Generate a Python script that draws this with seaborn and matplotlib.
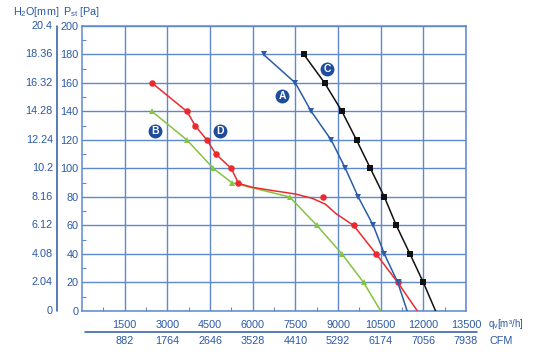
import numpy as np
import matplotlib
matplotlib.use("Agg")
import matplotlib.pyplot as plt
import seaborn as sns
from matplotlib.lines import Line2D

# Fan curves: airflow qv [m3/h] vs static pressure Pst [Pa]
a_flow = [6380, 7500, 8060, 8760, 9260, 9710, 10240, 10630, 11100, 11430]
a_pst = [180, 160, 140, 120, 100, 80, 60, 40, 20, 0]

b_flow = [2460, 3690, 4620, 5270, 7300, 8260, 9140, 9900, 10500]
b_pst = [140, 120, 100, 90, 80, 60, 40, 20, 0]

c_flow = [7800, 8530, 9140, 9650, 10140, 10630, 11050, 11530, 12000, 12430]
c_pst = [180, 160, 140, 120, 100, 80, 60, 40, 20, 0]

d_flow = [2460, 3690, 3980, 4390, 4710, 5250, 5470, 8480, 9550, 10340, 11100]
d_pst = [160, 140, 130, 120, 110, 100, 90, 80, 60, 40, 20]
d_curve_flow = [2460, 3690, 3980, 4390, 4710, 5250, 5500, 5980, 6800, 7500,
                8090, 8560, 8910, 9550, 10340, 11100, 11790]
d_curve_pst = [160, 140, 130, 120, 110, 100, 89.6, 86.8, 84.2, 82.1,
               79.1, 74.9, 68.6, 60, 40, 20, 0]

# axis tick labels
flow_ticks = [1500, 3000, 4500, 6000, 7500, 9000, 10500, 12000, 13500]
cfm_labels = ["882", "1764", "2646", "3528", "4410", "5292", "6174", "7056", "7938"]
pa_ticks = [0, 20, 40, 60, 80, 100, 120, 140, 160, 180, 200]
mm_labels = ["0", "2.04", "4.08", "6.12", "8.16", "10.2", "12.24", "14.28", "16.32", "18.36", "20.4"]

# curve name badges
badge_names = ["A", "B", "C", "D"]
badge_x = [7030, 2570, 8620, 4840]
badge_y = [151, 126, 170, 126]

sns.set_theme(style="white")
plt.rcParams["font.family"] = ["Liberation Sans", "DejaVu Sans"]

txt = "#2b58a6"
grid = "#5f88cf"
fs = 7.8

fig = plt.figure(figsize=(5.35, 3.58), dpi=100)
ax = fig.add_axes([0.1533, 0.1313, 0.7178, 0.7961])

series = [
    (a_flow, a_pst, "#2a5caa", "v", 4.5),
    (b_flow, b_pst, "#84c440", "^", 4.5),
    (c_flow, c_pst, "#111111", "s", 4),
]
for fx, fy, col, mk, ms in series:
    sns.lineplot(x=fx, y=fy, ax=ax, color=col, lw=1.1, marker=mk,
                 markersize=ms, markeredgewidth=0,
                 markevery=list(range(len(fx) - 1)), zorder=3)

# red curve: smooth trace plus its markers
sns.lineplot(x=d_curve_flow, y=d_curve_pst, ax=ax, color="#ec2a2e", lw=1.1,
             sort=False, zorder=3)
sns.scatterplot(x=d_flow, y=d_pst, ax=ax, color="#ec2a2e", marker="o",
                s=22, linewidth=0, zorder=3)
# A sits on top of D at the 20 Pa point
sns.scatterplot(x=a_flow[-2:-1], y=a_pst[-2:-1], ax=ax, color="#2a5caa",
                marker="v", s=22, linewidth=0, zorder=4)

ax.set_xlim(0, 13500)
ax.set_ylim(0, 200)
ax.set_xticks(flow_ticks)
ax.set_xticklabels([str(v) for v in flow_ticks])
ax.set_yticks(pa_ticks)
ax.set_yticklabels([str(v) for v in pa_ticks])
ax.set_xticks(np.arange(750, 13500, 1500), minor=True)
ax.set_yticks(np.arange(10, 200, 20), minor=True)
ax.tick_params(axis="both", which="major", length=0, labelsize=fs,
               labelcolor=txt)
ax.tick_params(axis="x", which="major", pad=6.5)
ax.tick_params(axis="y", which="major", pad=2.5)
ax.tick_params(axis="both", which="minor", direction="in", length=3,
               width=0.8, color=grid, left=True, bottom=True)
ax.grid(True, which="major", color=grid, lw=1.0)
for sp in ax.spines.values():
    sp.set_color(grid)
    sp.set_linewidth(1.1)
ax.set_xlabel("")
ax.set_ylabel("")

# second pressure scale in mm of water
ytr = ax.get_yaxis_transform()
for v, lab in zip(pa_ticks, mm_labels):
    ax.text(-0.076, v, lab, transform=ytr, ha="right", va="center",
            fontsize=fs, color=txt, clip_on=False)
ax.add_line(Line2D([-0.065, -0.065], [0, 1], transform=ax.transAxes,
                   color=txt, lw=1.1, clip_on=False))
ax.text(-0.180, 1.048, r"H$_\mathregular{2}$O[mm]", transform=ax.transAxes,
        ha="left", va="center", fontsize=fs, color=txt)
ax.text(-0.050, 1.048, r"P$_\mathregular{st}$ [Pa]", transform=ax.transAxes,
        ha="left", va="center", fontsize=fs, color=txt)

# second flow scale in CFM
xtr = ax.get_xaxis_transform()
for v, lab in zip(flow_ticks, cfm_labels):
    ax.text(v, -0.107, lab, transform=xtr, ha="center", va="center",
            fontsize=fs, color=txt, clip_on=False)
ax.add_line(Line2D([0.008, 1.029], [-0.0737, -0.0737], transform=ax.transAxes,
                   color=txt, lw=1.1, clip_on=False))
ax.text(1.057, -0.045, r"q$_\mathregular{v}$[m³/h]", transform=ax.transAxes,
        ha="left", va="center", fontsize=7, color=txt)
ax.text(1.062, -0.107, "CFM", transform=ax.transAxes,
        ha="left", va="center", fontsize=fs, color=txt)

# curve badges
ax.scatter(badge_x, badge_y, s=100, color="#1f4c9b", zorder=4, linewidths=0)
for n, bx, by in zip(badge_names, badge_x, badge_y):
    ax.text(bx, by, n, ha="center", va="center", fontsize=7.5,
            fontweight="bold", color="white", zorder=5)

fig.savefig("out.png", dpi=100)
